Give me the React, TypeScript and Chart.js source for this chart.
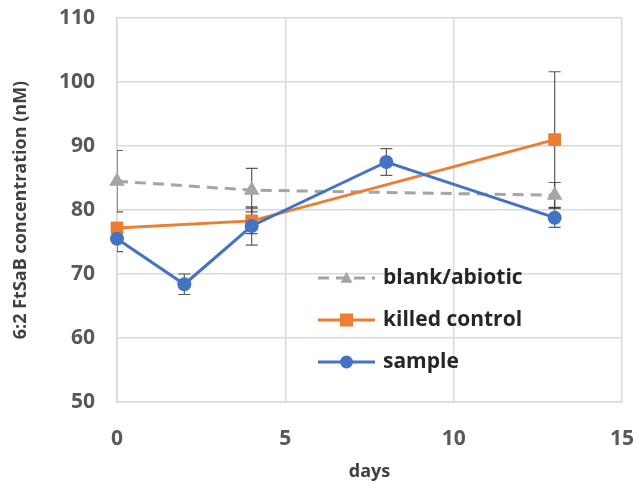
import React, { useEffect, useRef } from "react";
import { Chart, registerables } from "chart.js";

Chart.register(...registerables);

const blankDays = [0, 4, 13];
const blankValues = [84.5, 83.1, 82.3];
const blankErrors = [4.8, 3.4, 2.0];

const killedDays = [0, 4, 13];
const killedValues = [77.2, 78.3, 91.0];
const killedErrors = [0.5, 2.0, 10.6];

const sampleDays = [0, 2, 4, 8, 13];
const sampleValues = [75.5, 68.4, 77.5, 87.5, 78.8];
const sampleErrors = [2.0, 1.6, 3.0, 2.1, 1.5];

const seriesNames = ["blank/abiotic", "killed control", "sample"];
const xTicks = [0, 5, 10, 15];
const yTicks = [50, 60, 70, 80, 90, 100, 110];

const FONT = "'Open Sans', 'Noto Sans', sans-serif";
const GRAY = "#A5A5A5";
const ORANGE = "#ED7D31";
const BLUE = "#4472C4";

function toPoints(xs: number[], ys: number[]) {
  return xs.map((x, i) => ({ x, y: ys[i] }));
}

const errorBarPlugin = {
  id: "errorBars",
  beforeDatasetsDraw(chart: any) {
    const ctx = chart.ctx;
    const xs = chart.scales.x;
    const ys = chart.scales.y;
    const area = chart.chartArea;
    ctx.save();
    ctx.beginPath();
    ctx.rect(area.left, area.top - 10, area.right - area.left, area.bottom - area.top + 20);
    ctx.clip();
    ctx.strokeStyle = "rgba(64,64,64,0.85)";
    ctx.lineWidth = 1.2;
    chart.data.datasets.forEach((ds: any) => {
      const errs: number[] = ds.errors || [];
      ds.data.forEach((p: any, i: number) => {
        const e = errs[i];
        if (!e) return;
        const px = xs.getPixelForValue(p.x);
        const top = ys.getPixelForValue(p.y + e);
        const bot = ys.getPixelForValue(p.y - e);
        ctx.beginPath();
        ctx.moveTo(px, top);
        ctx.lineTo(px, bot);
        ctx.moveTo(px - 6, top);
        ctx.lineTo(px + 6, top);
        ctx.moveTo(px - 6, bot);
        ctx.lineTo(px + 6, bot);
        ctx.stroke();
      });
    });
    ctx.restore();
  },
};

const legendPlugin = {
  id: "insideLegend",
  afterDraw(chart: any) {
    const ctx = chart.ctx;
    const x0 = 318;
    const x1 = 375;
    const rows = [278, 320, 362];
    ctx.save();
    chart.data.datasets.forEach((ds: any, i: number) => {
      const y = rows[i];
      ctx.beginPath();
      ctx.strokeStyle = ds.borderColor;
      ctx.lineWidth = ds.borderWidth;
      ctx.setLineDash(ds.borderDash || []);
      ctx.moveTo(x0, y);
      ctx.lineTo(x1, y);
      ctx.stroke();
      ctx.setLineDash([]);
      const cx = (x0 + x1) / 2;
      ctx.fillStyle = ds.backgroundColor;
      ctx.beginPath();
      if (ds.pointStyle === "triangle") {
        const r = 6;
        ctx.moveTo(cx, y - r);
        ctx.lineTo(cx + r, y + r * 0.8);
        ctx.lineTo(cx - r, y + r * 0.8);
        ctx.closePath();
      } else if (ds.pointStyle === "rect") {
        ctx.rect(cx - 6.5, y - 6.5, 13, 13);
      } else {
        ctx.arc(cx, y, 6.5, 0, Math.PI * 2);
      }
      ctx.fill();
      ctx.fillStyle = "#262626";
      ctx.font = `bold 21px ${FONT}`;
      ctx.textBaseline = "middle";
      ctx.textAlign = "left";
      ctx.fillText(ds.label, 383, y);
    });
    ctx.restore();
  },
};

export default function App() {
  const ref = useRef<HTMLCanvasElement | null>(null);
  useEffect(() => {
    if (!ref.current) return;
    const chart = new Chart(ref.current, {
      type: "line",
      data: {
        datasets: [
          {
            label: seriesNames[0],
            data: toPoints(blankDays, blankValues),
            errors: blankErrors,
            borderColor: GRAY,
            backgroundColor: GRAY,
            borderWidth: 3,
            borderDash: [11, 7],
            pointStyle: "triangle",
            pointRadius: 9,
            pointBorderWidth: 0,
            order: 2,
            clip: false,
          } as any,
          {
            label: seriesNames[1],
            data: toPoints(killedDays, killedValues),
            errors: killedErrors,
            borderColor: ORANGE,
            backgroundColor: ORANGE,
            borderWidth: 3,
            pointStyle: "rect",
            pointRadius: 9,
            pointBorderWidth: 0,
            order: 1,
            clip: false,
          } as any,
          {
            label: seriesNames[2],
            data: toPoints(sampleDays, sampleValues),
            errors: sampleErrors,
            borderColor: BLUE,
            backgroundColor: BLUE,
            borderWidth: 3,
            pointStyle: "circle",
            pointRadius: 7,
            pointBorderWidth: 0,
            order: 0,
            clip: false,
          } as any,
        ],
      },
      options: {
        animation: false,
        responsive: false,
        maintainAspectRatio: false,
        layout: { padding: { top: 18, right: 14, left: 0, bottom: 0 } },
        plugins: {
          legend: { display: false },
          tooltip: { enabled: false },
        },
        scales: {
          x: {
            type: "linear",
            min: 0,
            max: 15,
            afterBuildTicks: (s: any) => {
              s.ticks = xTicks.map((v) => ({ value: v }));
            },
            afterFit: (s: any) => {
              s.height = 83;
              s.paddingLeft = 0;
              s.paddingRight = 0;
            },
            grid: { color: "#d9d9d9", lineWidth: 1.5, drawTicks: false },
            border: { color: "#d9d9d9", width: 1.5 },
            ticks: {
              padding: 24,
              color: "#595959",
              font: { family: FONT, size: 21, weight: "bold" },
            },
            title: {
              display: true,
              text: "days",
              color: "#404040",
              font: { family: FONT, size: 18, weight: "bold" },
              padding: { top: 0, bottom: 2 },
            },
          },
          y: {
            type: "linear",
            min: 50,
            max: 110,
            afterBuildTicks: (s: any) => {
              s.ticks = yTicks.map((v) => ({ value: v }));
            },
            afterFit: (s: any) => {
              s.width = 117;
              s.paddingTop = 0;
              s.paddingBottom = 0;
            },
            grid: { color: "#d9d9d9", lineWidth: 1.5, drawTicks: false },
            border: { color: "#d9d9d9", width: 1.5 },
            ticks: {
              padding: 22,
              color: "#595959",
              font: { family: FONT, size: 21, weight: "bold" },
            },
            title: {
              display: true,
              text: "6:2 FtSaB concentration (nM)",
              color: "#404040",
              font: { family: FONT, size: 18, weight: "bold" },
              padding: { top: 10, bottom: 0 },
            },
          },
        },
      } as any,
      plugins: [errorBarPlugin, legendPlugin],
    });
    return () => chart.destroy();
  }, []);
  return (
    <div style={{ position: "absolute", left: 0, top: 0, width: 636, height: 485, background: "#fff" }}>
      <canvas ref={ref} width={636} height={485} style={{ width: 636, height: 485 }} />
    </div>
  );
}
